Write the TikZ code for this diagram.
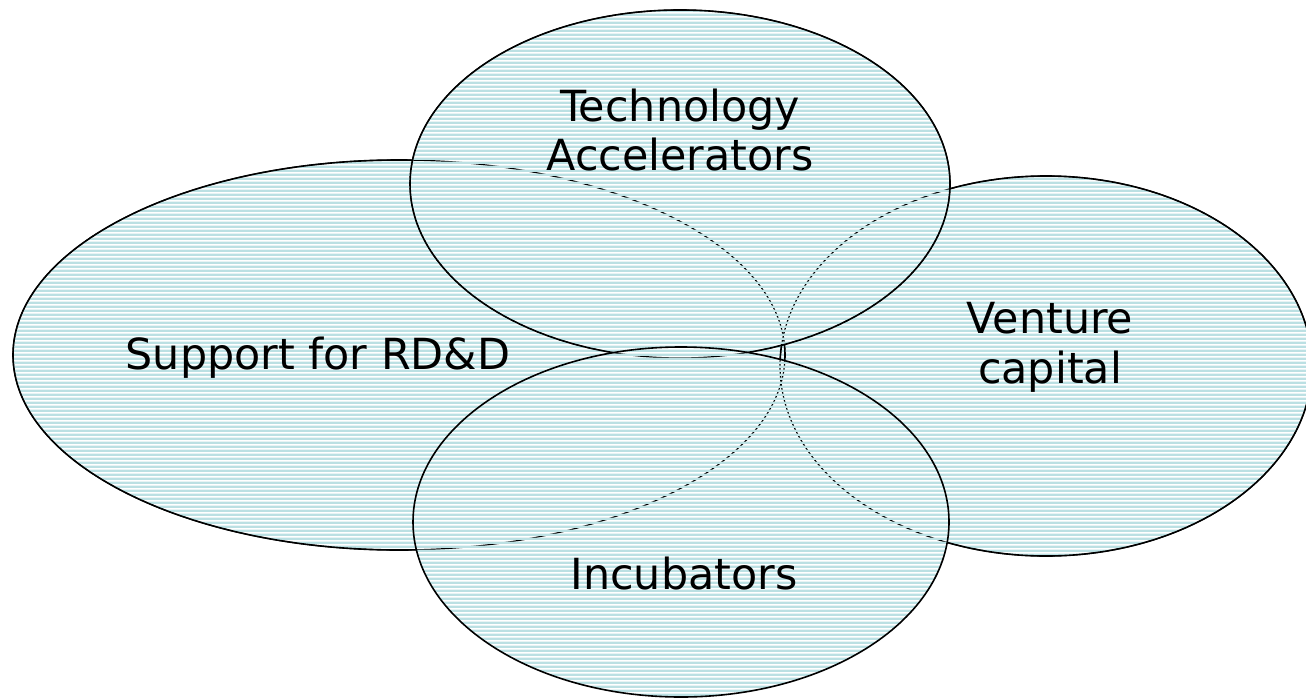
\documentclass[tikz,border=0pt]{standalone}
\usepackage{fontspec}
\setmainfont{DejaVu Sans}
\usetikzlibrary{patterns}
\definecolor{stripecyan}{RGB}{187,224,227}
% horizontal stripes, gaps left transparent
\pgfdeclarepatternformonly{hstripes}{\pgfqpoint{0bp}{0bp}}{\pgfqpoint{100bp}{4bp}}{\pgfqpoint{100bp}{4bp}}%
{\pgfpathrectangle{\pgfqpoint{-1bp}{0bp}}{\pgfqpoint{102bp}{3bp}}\pgfusepath{fill}}
% the four ellipses
\def\supportshape{(399,355) ellipse [x radius=386,y radius=195]}
\def\ventureshape{(1046,366) ellipse [x radius=266,y radius=190]}
\def\techshape{(680,184) ellipse [x radius=270,y radius=174]}
\def\incubshape{(681,522) ellipse [x radius=268,y radius=175]}
\begin{document}
\begin{tikzpicture}
[x=1bp,y=-1bp,
  rimdecorate/.style={draw=black,line width=1.6bp},%
  hiddendecorate/.style={draw=black,line width=1.2bp},%
  labeldecorate/.style={align=center,font=\fontsize{43}{50}\selectfont,inner sep=0pt}]
\useasboundingbox (0,0) rectangle (1306,699);
% hidden rims, seen through the gaps
\path[hiddendecorate] \supportshape \ventureshape \techshape;
% one fill for all
\fill[pattern=hstripes,pattern color=stripecyan] \supportshape \ventureshape \techshape \incubshape;
% visible rims
\begin{scope}
\clip[overlay] (-50,-50) rectangle (1360,750) \techshape;
\clip[overlay] (-50,-50) rectangle (1360,750) \incubshape;
\path[rimdecorate] \supportshape \ventureshape;
\end{scope}
\begin{scope}
\clip[overlay] (-50,-50) rectangle (1360,750) \incubshape;
\path[rimdecorate] \techshape;
\end{scope}
\path[rimdecorate] \incubshape;
% labels
\node (tech) at (680,130) [labeldecorate] {Technology\\Accelerators};
\node (venture) at (1050,347) [labeldecorate] {Venture\\capital};
\node (support) at (318,358) [labeldecorate] {Support for RD\&D};
\node (incub) at (684,574) [labeldecorate] {Incubators};
\end{tikzpicture}
\end{document}
